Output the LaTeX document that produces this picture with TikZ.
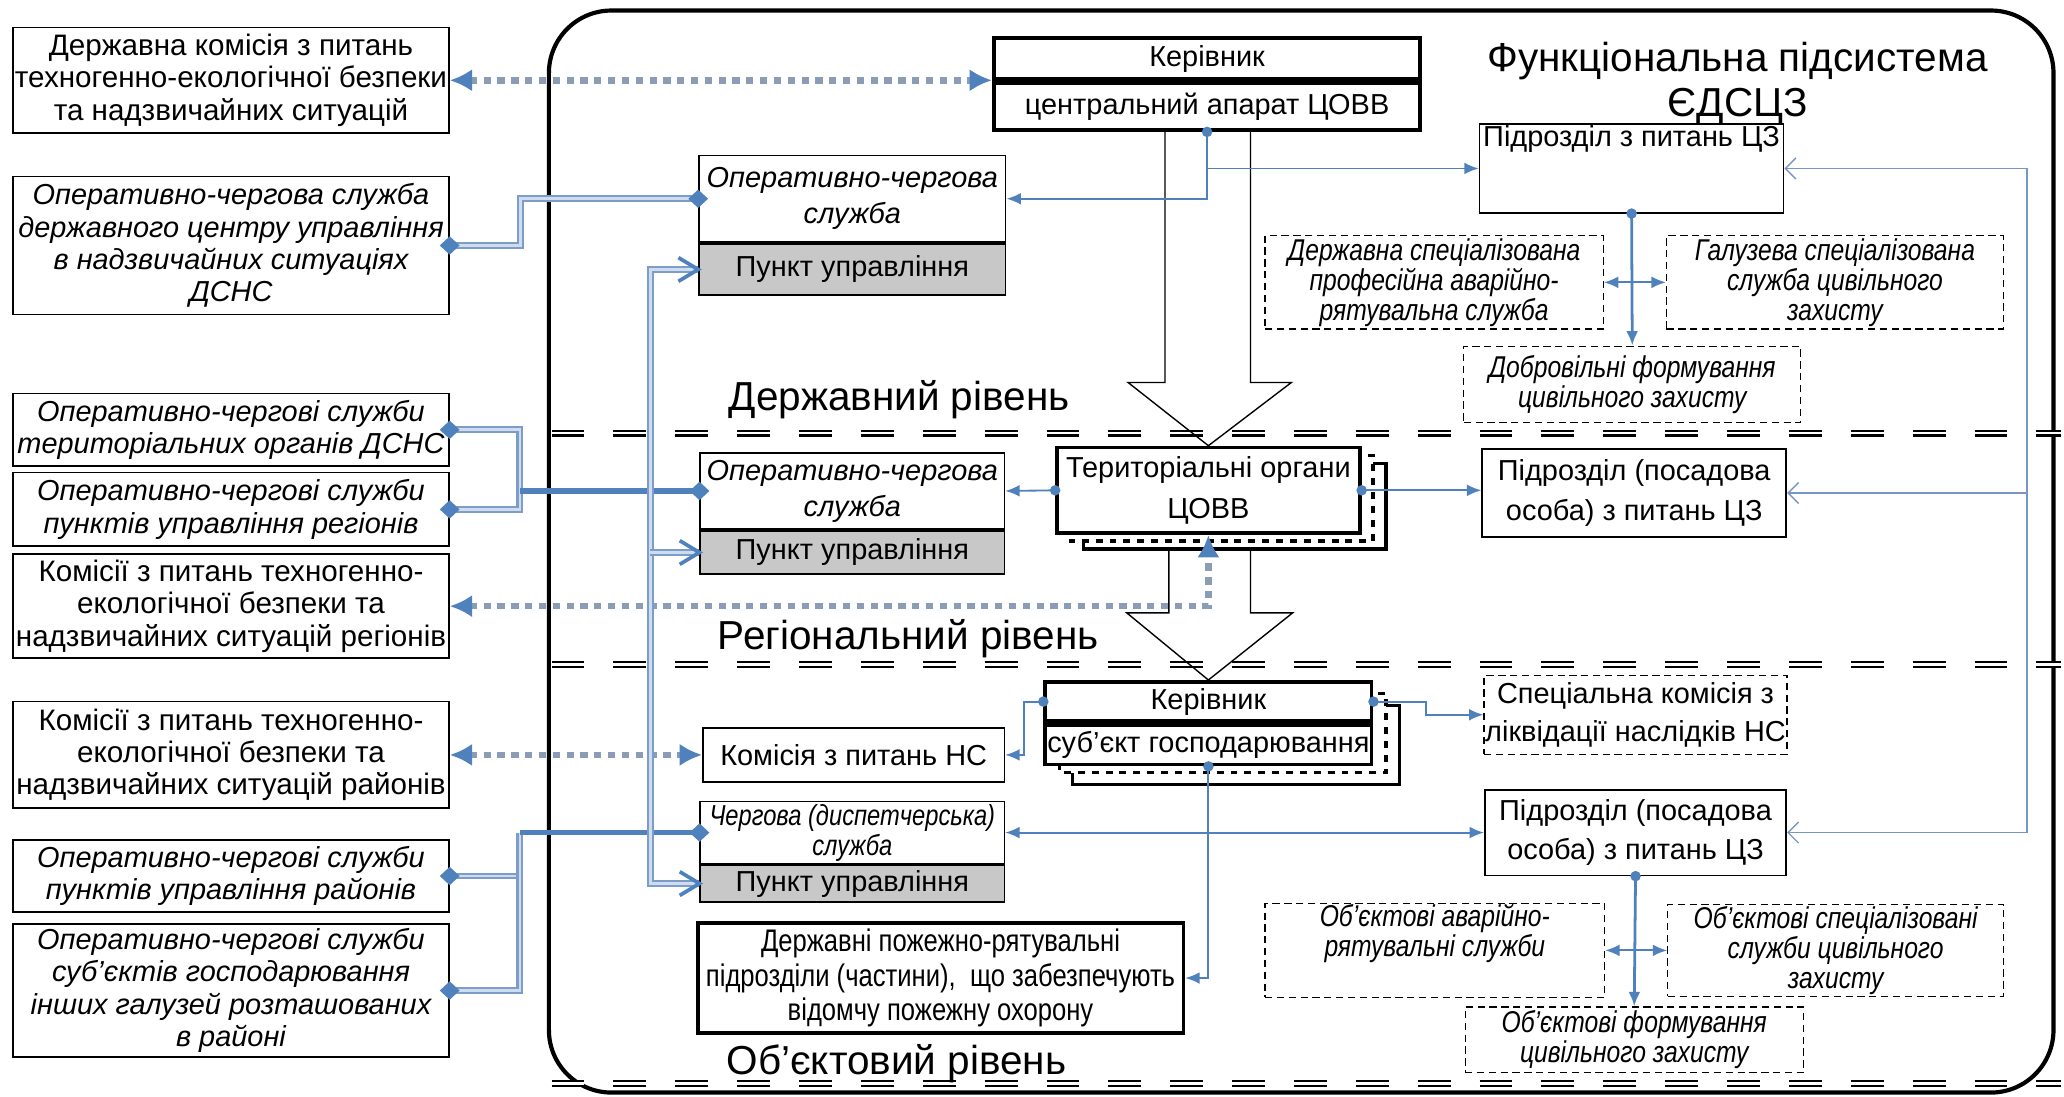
\documentclass[tikz,border=0pt]{standalone}
\usepackage{fontspec}
\setmainfont{Liberation Sans}
\newfontfamily\condfont[FakeStretch=0.82]{Liberation Sans}
\usetikzlibrary{arrows.meta,calc}
\definecolor{linkblue}{RGB}{79,129,189}
\definecolor{rblue}{RGB}{120,150,195}
\definecolor{dotgray}{RGB}{139,157,181}
\definecolor{busblue}{RGB}{125,157,200}
\definecolor{busin}{RGB}{205,220,238}
\definecolor{pugray}{RGB}{200,200,200}

\begin{document}
\begin{tikzpicture}[x=0.2mm, y=-0.2mm,
    sz/.style 2 args={minimum width=#1*0.2mm, minimum height=#2*0.2mm},
    box/.style={draw, line width=0.7pt, fill=white, inner sep=0.5pt, align=center, font=\fontsize{12.5}{14}\selectfont},
    ibox/.style={box, font=\fontsize{12.5}{15.5}\selectfont\itshape},
    lbox/.style={box, font=\fontsize{12.8}{14}\selectfont},
    libox/.style={box, font=\fontsize{12.5}{14}\selectfont\itshape},
    heavy/.style={box, line width=1.6pt},
    pubox/.style={box, fill=pugray},
    dbox/.style={box, line width=0.5pt, dash pattern=on 1.1mm off 0.7mm},
    dibox/.style={dbox, font=\condfont\fontsize{13}{13}\selectfont\itshape},
    stack/.style={draw, line width=1.4pt, fill=white},
    level/.style={font=\fontsize{17.5}{17}\selectfont, align=center},
    levelline/.style={draw, line width=0.9pt, double, double distance=1.2pt, dash pattern=on 5mm off 4.4mm},
    hollow/.style={draw, line width=0.6pt},
    link/.style={draw=linkblue, line width=0.8pt, -{Latex[length=2.2mm,width=1.8mm]}},
    twoway/.style={link, {Latex[length=2.2mm,width=1.8mm]}-{Latex[length=2.2mm,width=1.8mm]}},
    openlink/.style={draw=rblue, line width=0.6pt, -{Straight Barb[length=1.6mm,width=3.2mm]}},
    dotlink/.style={draw=dotgray, line width=1mm, dash pattern=on 1.1mm off 1mm, {Latex[length=3.4mm,width=3.4mm,color=linkblue]}-{Latex[length=3.4mm,width=3.4mm,color=linkblue]}},
    bus/.style={draw=busblue, double=busin, double distance=1.2pt, line width=0.9pt},
    trunk/.style={draw=linkblue, line width=2.4pt},
    barb/.style={draw=linkblue, line width=1.6pt}
]
    \useasboundingbox (0,0) rectangle (1568,833);

    % Frame of the subsystem
    \draw[line width=1.8pt, rounded corners=9.5mm] (417,8) rectangle (1560,830);

    % Level separators
    \foreach \y in {329,505,823} {
        \draw[levelline] (419,\y) -- (1566,\y);
    }

    % Level labels and title
    \node[level] (lev1) at (683,304) {Державний рівень};
    \node[level] (lev2) at (690,485) {Регіональний рівень};
    \node[level] (lev3) at (681,808) {Об’єктовий рівень};
    \node[level, font=\fontsize{17.5}{19.5}\selectfont] (title) at (1320,63) {Функціональна підсистема\\ЄДСЦЗ};

    % Outside bodies
    \node[lbox, sz={331}{80}] (l1) at (175.5,61) {Державна комісія з питань\\техногенно-екологічної безпеки\\та надзвичайних ситуацій};
    \node[libox, sz={331}{105}] (l2) at (175.5,186.5) {Оперативно-чергова служба\\державного центру управління\\в надзвичайних ситуаціях\\ДСНС};
    \node[libox, sz={331}{55}] (l3) at (175.5,326.5) {Оперативно-чергові служби\\територіальних органів ДСНС};
    \node[libox, sz={331}{56}] (l4) at (175.5,387) {Оперативно-чергові служби\\пунктів управління регіонів};
    \node[lbox, sz={331}{79}] (l5) at (175.5,460.5) {Комісії з питань техногенно-\\екологічної безпеки та\\надзвичайних ситуацій регіонів};
    \node[lbox, sz={331}{81}] (l6) at (175.5,573.5) {Комісії з питань техногенно-\\екологічної безпеки та\\надзвичайних ситуацій районів};
    \node[libox, sz={331}{55}] (l7) at (175.5,665.5) {Оперативно-чергові служби\\пунктів управління районів};
    \node[libox, sz={331}{101}] (l8) at (175.5,752.5) {Оперативно-чергові служби\\суб’єктів господарювання\\інших галузей розташованих\\в районі};

    % State level
    \node[heavy, sz={324}{31}] (topb1) at (917,44.5) {Керівник};
    \node[heavy, sz={324}{36}, anchor=north] (topb2) at (topb1.south) {центральний апарат ЦОВВ};
    \node[ibox, sz={233}{66}] (oc1) at (647.5,151) {Оперативно-чергова\\служба};
    \node[pubox, sz={233}{39}, anchor=north] (oc1pu) at (oc1.south) {Пункт управління};
    \node[box, sz={231}{64}] (p1) at (1239.5,128) {Підрозділ з питань ЦЗ\\[10pt]\strut};
    \node[dibox, sz={257}{71}] (d1) at (1089.5,214.5) {Державна спеціалізована\\професійна аварійно-\\рятувальна служба};
    \node[dibox, sz={256}{71}] (d2) at (1394,214.5) {Галузева спеціалізована\\служба цивільного\\захисту};
    \node[dibox, sz={256}{58}] (d3) at (1240,292) {Добровільні формування\\цивільного захисту};

    % Regional level
    \draw[stack] (823,352) rectangle (1053,417);
    \draw[stack, dashed] (813,346) rectangle (1043,411);
    \node[ibox, sz={231}{58}] (oc2) at (647.5,373) {Оперативно-чергова\\служба};
    \node[pubox, sz={231}{33}, anchor=north] (oc2pu) at (oc2.south) {Пункт управління};
    \node[heavy, sz={230}{65}, font=\fontsize{12.5}{18}\selectfont] (tb) at (918,372.5) {Територіальні органи\\ЦОВВ};
    \node[box, sz={231}{67}, font=\fontsize{12.5}{17}\selectfont] (p2) at (1241.5,374.5) {Підрозділ (посадова\\особа) з питань ЦЗ};

    % Object level
    \draw[stack] (815,536) rectangle (1063,596);
    \draw[stack, dashed] (805,527) rectangle (1053,587);
    \node[box, sz={229}{41}] (kom) at (648.5,573.5) {Комісія з питань НС};
    \node[heavy, sz={248}{30}] (k2a) at (918,533) {Керівник};
    \node[heavy, sz={248}{30}, anchor=north] (k2b) at (k2a.south) {суб’єкт господарювання};
    \node[dbox, sz={229}{60}, font=\fontsize{12.5}{16.5}\selectfont] (spec) at (1242.5,543) {Спеціальна комісія з\\ліквідації наслідків НС};
    \node[box, sz={231}{47}, font=\condfont\fontsize{12.5}{13}\selectfont\itshape] (oc3) at (647.5,632.5) {Чергова (диспетчерська)\\служба};
    \node[pubox, sz={231}{28}, anchor=north] (oc3pu) at (oc3.south) {Пункт управління};
    \node[box, sz={229}{65}, font=\fontsize{12.5}{17}\selectfont] (p3) at (1242.5,632.5) {Підрозділ (посадова\\особа) з питань ЦЗ};
    \node[dibox, sz={258}{70}] (o1) at (1090,722) {Об’єктові аварійно-\\рятувальні служби\\\strut};
    \node[dibox, sz={255}{70}] (o2) at (1394.5,722) {Об’єктові спеціалізовані\\служби цивільного\\захисту};
    \node[dibox, sz={257}{50}] (o3) at (1241.5,790) {Об’єктові формування\\цивільного захисту};
    \node[heavy, sz={369}{84}, font=\condfont\fontsize{13.5}{15}\selectfont] (dpr) at (714.5,743) {Державні пожежно-рятувальні\\підрозділи (частини), \ що забезпечують\\відомчу пожежну охорону};

    % Hollow arrows between levels
    \draw[hollow] ($(topb2.south)+(-32,0)$) |- ($(tb.north)+(-61,-48)$) -- (tb.north) -- ($(tb.north)+(63,-48)$) -| ($(topb2.south)+(33,0)$);
    \draw[hollow] ($(tb.south)+(-30,12)$) |- ($(k2a.north)+(-62,-51)$) -- (k2a.north) -- ($(k2a.north)+(64,-51)$) -| ($(tb.south)+(32,12)$);

    % Dotted links to the commissions
    \draw[dotlink] (l1.east) -- (l1.east -| topb1.west);
    \draw[dotlink] (l5.east) -| (tb.south);
    \draw[dotlink] (l6.east) -- (kom.west);

    % Duty services feeding the control points
    \coordinate (j2) at (395,373);
    \coordinate (j3) at (395,632.5);
    \draw[bus] (l2.east) -- ++(54,0) |- (oc1.west);
    \draw[bus] (l3.east) -| (j2);
    \draw[bus] (l4.east) -| (j2);
    \draw[trunk] (j2) -- (oc2.west);
    \draw[bus] (l7.east) -- (l7.east -| j3);
    \draw[bus] (l8.east) -| (j3);
    \draw[trunk] (j3) -- (oc3.west);
    \foreach \p in {l2.east, l3.east, l4.east, l7.east, l8.east, oc1.west, oc2.west, oc3.west} {
        \fill[linkblue] (\p) +(-7.5,0) -- +(0,-7) -- +(7.5,0) -- +(0,7) -- cycle;
    }

    % Bus between the control points
    \coordinate (bus) at (494,0);
    \draw[bus] (oc1pu.west) -- (oc1pu.west -| bus) -- (oc3pu.west -| bus) -- (oc3pu.west);
    \draw[bus] (oc2pu.west -| bus) -- (oc2pu.west);
    \foreach \n in {oc1pu, oc2pu, oc3pu} {
        \draw[barb] (\n.west) +(-15,-9) -- (\n.west) -- +(-15,9);
    }

    % Links from the heads
    \draw[link] (topb2.south) |- (oc1.east);
    \draw[link] (topb2.south) |- (p1.west);
    \draw[link] (tb.west) -- (oc2.east);
    \draw[link] (tb.east) -- (tb.east -| p2.west);
    \draw[link] (k2a.west) -- ++(-15,0) |- (kom.east);
    \draw[link] (k2a.east) -- ++(40,0) |- (spec.west);
    \draw[link] (k2b.south) |- (oc3.east);
    \draw[link] (k2b.south) |- (p3.west);
    \draw[link] (k2b.south) |- (dpr.east);

    % Civil protection units
    \draw[link, line width=1.2pt] (p1.south) -- (d3.north);
    \draw[twoway] (d1.east) -- (d2.west);
    \draw[link, line width=1.2pt] (p3.south) -- (o3.north);
    \draw[twoway] (o1.east) -- (o2.west);

    % Right-hand line to the units
    \coordinate (rbus) at (1540,0);
    \draw[openlink, {Straight Barb[length=1.6mm,width=3.2mm]}-{Straight Barb[length=1.6mm,width=3.2mm]}] (p1.east) -- (p1.east -| rbus) -- (p3.east -| rbus) -- (p3.east);
    \draw[openlink] (p2.east -| rbus) -- (p2.east);

    % Junction dots
    \foreach \p in {topb2.south, tb.west, tb.east, k2a.west, k2a.east, k2b.south, p1.south, p3.south} {
        \fill[linkblue] (\p) circle (0.8mm);
    }
\end{tikzpicture}
\end{document}
